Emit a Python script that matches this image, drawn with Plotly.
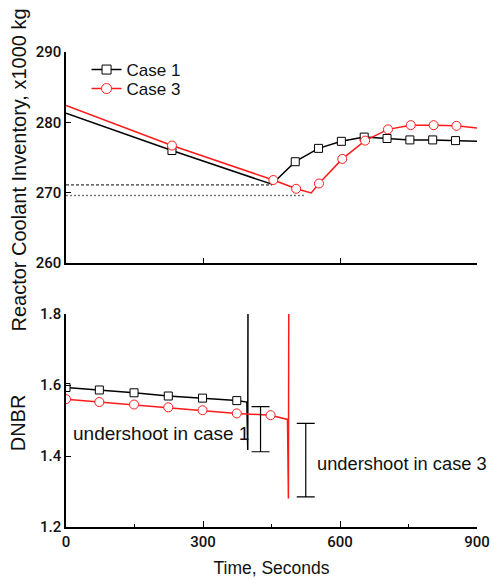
import plotly.graph_objects as go

FONT = "Liberation Sans, Arial, sans-serif"
TICKFONT = "Roboto, Liberation Sans, Arial, sans-serif"
RED = "#ff1a1a"

# ---------- Top panel: Reactor coolant inventory (x1000 kg) ----------
inv_c1_t = [0, 232, 451, 502, 553, 603, 653, 703, 753, 803, 853, 900]
inv_c1_v = [281.3, 276.0, 271.2, 274.4, 276.3, 277.3, 277.9, 277.7, 277.5, 277.5, 277.4, 277.3]
inv_c1_mk_t = [232, 502, 553, 603, 653, 703, 753, 803, 853]
inv_c1_mk_v = [276.0, 274.4, 276.3, 277.3, 277.9, 277.7, 277.5, 277.5, 277.4]

inv_c3_t = [0, 232, 454, 504, 537, 554, 605, 655, 705, 755, 805, 855, 900]
inv_c3_v = [282.4, 276.7, 271.8, 270.55, 269.95, 271.3, 274.8, 277.4, 279.0, 279.6, 279.6, 279.5, 279.2]
inv_c3_mk_t = [232, 454, 504, 554, 605, 655, 705, 755, 805, 855]
inv_c3_mk_v = [276.7, 271.8, 270.55, 271.3, 274.8, 277.4, 279.0, 279.6, 279.6, 279.5]

min_c1_t = [0, 451]
min_c1_v = [271.1, 271.1]
min_c3_t = [0, 524]
min_c3_v = [269.6, 269.6]

# ---------- Bottom panel: DNBR ----------
dnbr_c1_t = [0, 73, 149, 224, 299, 374, 396, 398, 399.5]
dnbr_c1_v = [1.593, 1.586, 1.578, 1.569, 1.563, 1.556, 1.552, 1.417, 2.6]
dnbr_c1_mk_t = [0, 73, 149, 224, 299, 374]
dnbr_c1_mk_v = [1.593, 1.586, 1.578, 1.569, 1.563, 1.556]

dnbr_c3_t = [0, 73, 149, 224, 299, 374, 448, 485, 487, 489]
dnbr_c3_v = [1.560, 1.552, 1.545, 1.537, 1.529, 1.520, 1.515, 1.503, 1.28, 2.6]
dnbr_c3_mk_t = [0, 73, 149, 224, 299, 374, 448]
dnbr_c3_mk_v = [1.560, 1.552, 1.545, 1.537, 1.529, 1.520, 1.515]

# undershoot brackets: time, low, high
under_t = [426, 525]
under_lo = [1.412, 1.285]
under_hi = [1.539, 1.492]
under_labels = ["undershoot in case 1", "undershoot in case 3"]
under_label_t = [11, 545]
under_label_v = [1.464, 1.379]
under_label_size = [19, 18.3]

x_ticks = [0, 300, 600, 900]
inv_ticks = [260, 270, 280, 290]
dnbr_ticks = [1.2, 1.4, 1.6, 1.8]

fig = go.Figure()

# top panel
fig.add_trace(go.Scatter(x=min_c1_t, y=min_c1_v, mode="lines", xaxis="x", yaxis="y",
                         line=dict(color="black", width=1, dash="3px,2px"), showlegend=False))
fig.add_trace(go.Scatter(x=min_c3_t, y=min_c3_v, mode="lines", xaxis="x", yaxis="y",
                         line=dict(color="#777777", width=1.5, dash="2px,2px"), showlegend=False))
fig.add_trace(go.Scatter(x=inv_c1_t, y=inv_c1_v, mode="lines", xaxis="x", yaxis="y",
                         line=dict(color="black", width=1.5), showlegend=False))
fig.add_trace(go.Scatter(x=inv_c1_mk_t, y=inv_c1_mk_v, mode="markers", xaxis="x", yaxis="y",
                         marker=dict(symbol="square", size=8, color="white",
                                     line=dict(color="black", width=1)), showlegend=False))
fig.add_trace(go.Scatter(x=inv_c3_t, y=inv_c3_v, mode="lines", xaxis="x", yaxis="y",
                         line=dict(color=RED, width=1.5), showlegend=False))
fig.add_trace(go.Scatter(x=inv_c3_mk_t, y=inv_c3_mk_v, mode="markers", xaxis="x", yaxis="y",
                         marker=dict(symbol="circle", size=9, color="white",
                                     line=dict(color=RED, width=1)), showlegend=False))

# legend entries (two separate legends to control row spacing)
fig.add_trace(go.Scatter(x=[None], y=[None], mode="lines+markers", name="Case 1",
                         xaxis="x", yaxis="y", legend="legend",
                         line=dict(color="black", width=1.5),
                         marker=dict(symbol="square", size=9, color="white",
                                     line=dict(color="black", width=1))))
fig.add_trace(go.Scatter(x=[None], y=[None], mode="lines+markers", name="Case 3",
                         xaxis="x", yaxis="y", legend="legend2",
                         line=dict(color=RED, width=1.5),
                         marker=dict(symbol="circle", size=10, color="white",
                                     line=dict(color=RED, width=1))))

# bottom panel
fig.add_trace(go.Scatter(x=dnbr_c1_t, y=dnbr_c1_v, mode="lines", xaxis="x2", yaxis="y2",
                         line=dict(color="black", width=1.5), showlegend=False))
fig.add_trace(go.Scatter(x=dnbr_c1_mk_t, y=dnbr_c1_mk_v, mode="markers", xaxis="x2", yaxis="y2",
                         marker=dict(symbol="square", size=8, color="white",
                                     line=dict(color="black", width=1)), showlegend=False))
fig.add_trace(go.Scatter(x=dnbr_c3_t, y=dnbr_c3_v, mode="lines", xaxis="x2", yaxis="y2",
                         line=dict(color=RED, width=1.5), showlegend=False))
fig.add_trace(go.Scatter(x=dnbr_c3_mk_t, y=dnbr_c3_mk_v, mode="markers", xaxis="x2", yaxis="y2",
                         marker=dict(symbol="circle", size=9, color="white",
                                     line=dict(color=RED, width=1)), showlegend=False))

mid = [(lo + hi) / 2 for lo, hi in zip(under_lo, under_hi)]
half = [(hi - lo) / 2 for lo, hi in zip(under_lo, under_hi)]
fig.add_trace(go.Scatter(x=under_t, y=mid, mode="markers", xaxis="x2", yaxis="y2",
                         marker=dict(size=1, color="rgba(0,0,0,0)"),
                         error_y=dict(type="data", array=half, symmetric=True,
                                      color="black", thickness=1.2, width=9),
                         showlegend=False, hoverinfo="skip"))

for txt, tx, ty, sz in zip(under_labels, under_label_t, under_label_v, under_label_size):
    fig.add_annotation(x=tx, y=ty, xref="x2", yref="y2", text=txt, showarrow=False,
                       xanchor="left", yanchor="middle",
                       font=dict(family=FONT, size=sz, color="#111111"))

# axis titles
fig.add_annotation(x=-0.115, y=0.752, xref="paper", yref="paper",
                   text="Reactor Coolant Inventory, x1000 kg", textangle=-90,
                   showarrow=False, xanchor="center", yanchor="middle",
                   font=dict(family=FONT, size=20, color="#111111"))
fig.add_annotation(x=-0.116, y=0.219, xref="paper", yref="paper",
                   text="DNBR", textangle=-90,
                   showarrow=False, xanchor="center", yanchor="middle",
                   font=dict(family=FONT, size=20, color="#111111"))

axis_common = dict(showline=True, linecolor="black", linewidth=1.5, showgrid=False,
                   zeroline=False, ticks="inside", tickcolor="black", tickwidth=1.2,
                   mirror=False, automargin=False,
                   tickfont=dict(family=TICKFONT, size=15, color="#111111", weight=500))

legend_common = dict(xanchor="left", yanchor="middle", xref="paper", yref="paper",
                     bgcolor="rgba(0,0,0,0)", itemwidth=30, borderwidth=0,
                     font=dict(family=FONT, size=17, color="#111111"))

fig.update_layout(
    width=491, height=580,
    margin=dict(l=66, r=14, t=52, b=53, autoexpand=False),
    paper_bgcolor="white", plot_bgcolor="white",
    showlegend=True,
    legend=dict(x=0.05, y=(527 - 70) / 475, **legend_common),
    legend2=dict(x=0.05, y=(527 - 89) / 475, **legend_common),
    xaxis=dict(domain=[0, 1], range=[0, 900], tickvals=x_ticks, showticklabels=False,
               ticklen=5, anchor="y", **axis_common),
    yaxis=dict(domain=[(527 - 263) / 475, 1.0], range=[260, 290], tickvals=inv_ticks,
               ticklen=5, anchor="x", **axis_common),
    xaxis2=dict(domain=[0, 1], range=[0, 900], tickvals=x_ticks, ticklen=6, anchor="y2",
                minor=dict(ticks="inside", tickvals=[150, 450, 750], ticklen=3,
                           tickcolor="black", tickwidth=1),
                title=dict(text="Time, Seconds", standoff=12,
                           font=dict(family=FONT, size=17.5, color="#111111")),
                **axis_common),
    yaxis2=dict(domain=[0, (527 - 314) / 475], range=[1.2, 1.8], tickvals=dnbr_ticks,
                tickformat=".1f", ticklen=5, anchor="x2", **axis_common),
)

fig.write_html("out.html")
